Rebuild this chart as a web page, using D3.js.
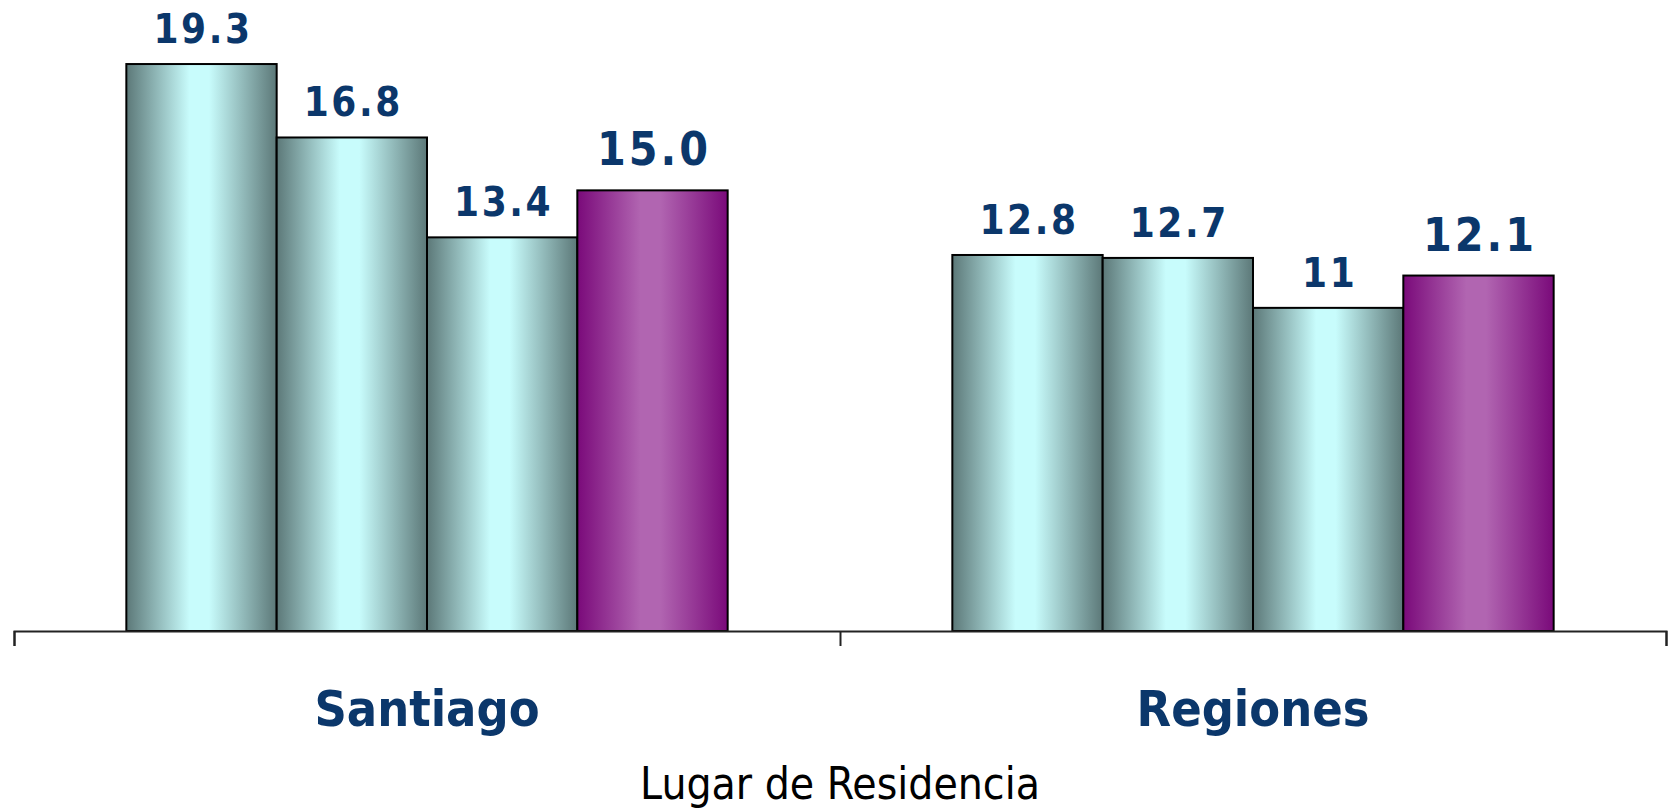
<!DOCTYPE html>
<html lang="es">
<head>
  <meta charset="UTF-8">
  <title>Lugar de Residencia</title>
  <script src="https://cdn.jsdelivr.net/npm/d3@7"></script>
  <style>
    body { margin: 0; background: #fff; }
    text { font-family: "DejaVu Sans", Verdana, sans-serif; font-stretch: condensed; }
  </style>
</head>
<body>
  <svg width="1671" height="808"></svg>
<script>
  // datos
  const categories = ["Santiago", "Regiones"];
  const series = ["s1", "s2", "s3", "s4"];
  const values = [
    [19.3, 16.8, 13.4, 15.0],
    [12.8, 12.7, 11, 12.1]
  ];
  const labels = [
    ["19.3", "16.8", "13.4", "15.0"],
    ["12.8", "12.7", "11", "12.1"]
  ];
  const axisTitle = "Lugar de Residencia";

  const svg = d3.select("svg");
  const baseY = 631;
  const left = 14, right = 1666;

  const x0 = d3.scaleBand().domain(categories).range([left, right]);
  const x1 = d3.scaleBand().domain(series)
    .range([x0.bandwidth() * 0.136, x0.bandwidth() * 0.864]);
  const y = d3.scaleLinear().domain([0, 21.48]).range([baseY, 0]);

  // degradados
  const defs = svg.append("defs");
  function grad(id, dark, light) {
    const g = defs.append("linearGradient").attr("id", id)
      .attr("x1", "0%").attr("x2", "100%").attr("y1", "0%").attr("y2", "0%");
    g.append("stop").attr("offset", "0%").attr("stop-color", dark);
    g.append("stop").attr("offset", "42%").attr("stop-color", light);
    g.append("stop").attr("offset", "55%").attr("stop-color", light);
    g.append("stop").attr("offset", "100%").attr("stop-color", dark);
  }
  grad("gCyan", "#5c7878", "#c8fcfc");
  grad("gPurple", "#7a0a7a", "#b165b1");

  const groups = svg.append("g").selectAll("g")
    .data(categories)
    .join("g")
    .attr("transform", d => `translate(${x0(d)},0)`);

  const bars = groups.selectAll("g")
    .data((c, ci) => series.map((s, si) => ({ s, si, v: values[ci][si], label: labels[ci][si] })))
    .join("g");

  bars.append("rect")
    .attr("x", d => x1(d.s))
    .attr("width", x1.bandwidth())
    .attr("y", d => y(d.v))
    .attr("height", d => baseY - y(d.v))
    .attr("fill", d => d.si === 3 ? "url(#gPurple)" : "url(#gCyan)")
    .attr("stroke", "#000")
    .attr("stroke-width", 2);

  bars.append("text")
    .attr("x", d => x1(d.s) + x1.bandwidth() / 2 + 1.5)
    .attr("y", d => y(d.v) - (d.si === 3 ? 25 : 21))
    .attr("text-anchor", "middle")
    .attr("font-weight", "bold")
    .attr("font-size", d => d.si === 3 ? "46px" : "40px")
    .attr("letter-spacing", d => d.si === 3 ? "3px" : "2.6px")
    .attr("fill", "#0b376b")
    .text(d => d.label);

  // eje con marcas en los bordes de las categorías
  const xEdge = d3.scaleLinear().domain([0, categories.length]).range([left, right]);
  const axis = svg.append("g")
    .attr("transform", `translate(0,${baseY})`)
    .call(d3.axisBottom(xEdge).tickValues(d3.range(categories.length + 1))
      .tickSize(15).tickSizeOuter(15).tickFormat(""));
  axis.selectAll("path, line").attr("stroke", "#222").attr("stroke-width", 2);

  // nombres de categorías
  svg.append("g")
    .attr("transform", `translate(0,${baseY})`)
    .call(d3.axisBottom(x0).tickSize(0).tickPadding(0))
    .call(g => g.select(".domain").remove())
    .selectAll("text")
    .attr("dy", null)
    .attr("y", 95)
    .attr("font-size", "50px")
    .attr("font-weight", "bold")
    .attr("fill", "#0b376b");

  svg.append("text")
    .attr("x", (left + right) / 2)
    .attr("y", 799)
    .attr("text-anchor", "middle")
    .attr("font-size", "44px")
    .attr("fill", "#000")
    .text(axisTitle);
</script>
</body>
</html>
